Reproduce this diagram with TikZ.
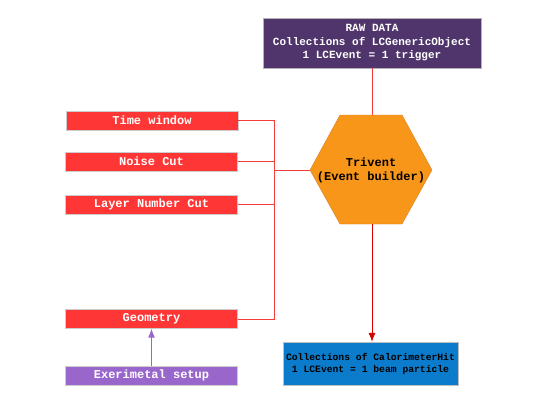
\documentclass[tikz,border=0pt]{standalone}
\usepackage{fontspec}
\setmonofont{Liberation Mono}
\usetikzlibrary{arrows.meta}

\definecolor{rawpurple}{HTML}{4F356B}
\definecolor{cutred}{HTML}{FF3636}
\definecolor{linered}{HTML}{F43C3C}
\definecolor{setuppurple}{HTML}{9966CC}
\definecolor{hitblue}{HTML}{0B7BCB}
\definecolor{trvorange}{HTML}{F8961A}

\tikzset{
  cutbox/.style={draw=gray!40, fill=cutred, text=white, minimum width=172pt,
    minimum height=19pt, inner sep=0pt, font=\fontsize{12}{14}\selectfont\ttfamily\bfseries},
  bus/.style={linered, line width=0.8pt},
}

\begin{document}
\begin{tikzpicture}[x=1pt, y=-1pt, >={Latex[length=9pt, width=7pt]}]
    % 1. cadre
    \useasboundingbox (0,0) rectangle (553,415);

    % 2. donnees brutes et sortie
    \node[draw=gray!60, fill=rawpurple, text=white, minimum width=218pt,
          minimum height=50pt, align=center,
          font=\fontsize{11}{13.5}\selectfont\ttfamily\bfseries]
          (raw) at (372,43) {RAW DATA\\Collections of LCGenericObject\\1 LCEvent = 1 trigger};

    \node[draw=gray!50, fill=hitblue, text=black, minimum width=173pt,
          minimum height=43pt, align=center,
          font=\fontsize{9.7}{12}\selectfont\ttfamily\bfseries]
          (hits) at (370.5,363.5) {Collections of CalorimeterHit\\1 LCEvent = 1 beam particle};

    % 3. le constructeur d'evenements (hexagone)
    \coordinate (trvleft)  at (310,170);
    \coordinate (trvtop)   at (371,115);
    \coordinate (trvbot)   at (371,224);
    \filldraw[draw=orange!70!gray, fill=trvorange]
          (trvleft) -- (340,115) -- (402,115) -- (432,170)
          -- (402,224) -- (340,224) -- cycle;
    \node[align=center, font=\fontsize{12}{14}\selectfont\ttfamily\bfseries]
          (trivent) at (371,170) {Trivent\\(Event builder)};

    % 4. les coupures
    \node[cutbox] (time)  at (152,120.5) {Time window};
    \node[cutbox] (noise) at (151.5,161.5) {Noise Cut};
    \node[cutbox] (layer) at (151.5,204.5) {Layer Number Cut};
    \node[cutbox] (geom)  at (151.5,319) {Geometry};
    \node[cutbox, fill=setuppurple] (setup) at (151.5,375.5) {Exerimetal setup};

    % 5. liaisons
    \coordinate (busmid) at (274,170);
    \draw[bus] (time.east) -| (busmid);
    \draw[bus] (noise.east) -- (noise.east -| busmid);
    \draw[bus] (layer.east) -| (busmid);
    \draw[bus] (geom.east) -| (busmid);
    \draw[bus] (busmid) -- (trvleft);

    \draw[bus] (raw.south) -- (raw.south |- trvtop);
    \draw[bus, ->, red!85!black] (raw.south |- trvbot) -- (raw.south |- hits.north);
    \draw[setuppurple, line width=1pt, ->] (setup.north) -- (geom.south);

\end{tikzpicture}
\end{document}
